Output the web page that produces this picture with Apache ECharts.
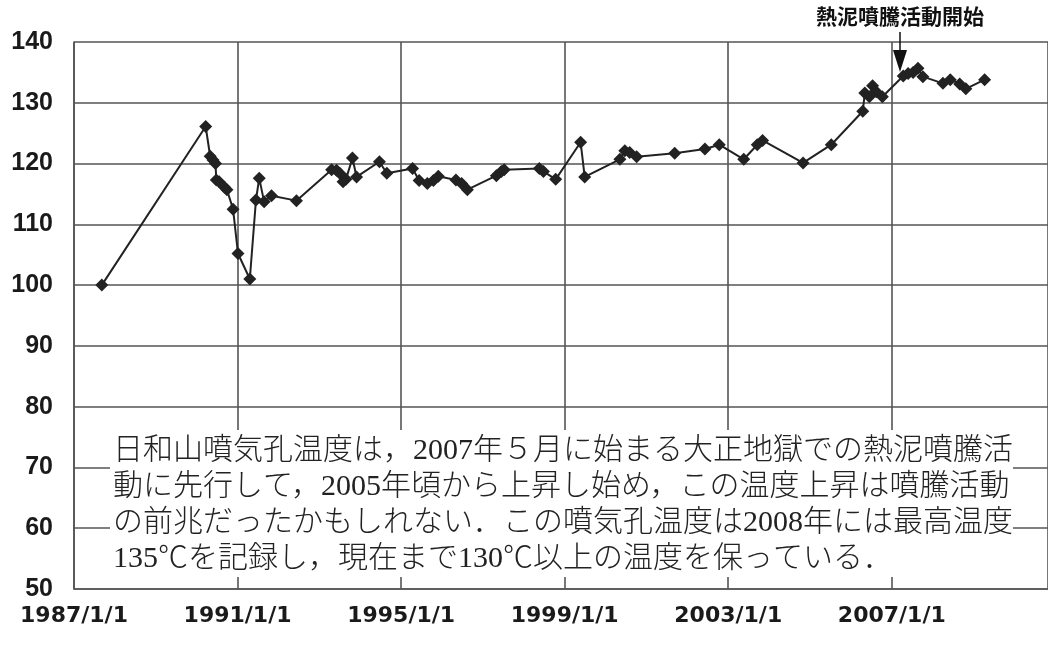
<!DOCTYPE html>
<html>
<head>
<meta charset="utf-8">
<style>
html, body { margin: 0; padding: 0; background: #fff; }
#chart { width: 1048px; height: 645px; }
</style>
<script src="https://cdn.jsdelivr.net/npm/echarts@6/dist/echarts.min.js"></script>
</head>
<body>
<div id="chart"></div>
<script>
// 日和山噴気孔温度 (年は小数で表す)
var years = [
  1987.68, 1990.22, 1990.33, 1990.40, 1990.46, 1990.48, 1990.55, 1990.68, 1990.74, 1990.89,
  1991.01, 1991.30, 1991.45, 1991.53, 1991.65, 1991.83, 1992.44, 1993.30, 1993.42, 1993.50,
  1993.58, 1993.65, 1993.81, 1993.91, 1994.47, 1994.65, 1995.28, 1995.44, 1995.64, 1995.79,
  1995.91, 1996.34, 1996.48, 1996.62, 1997.33, 1997.45, 1997.52, 1998.38, 1998.48, 1998.78,
  1999.39, 1999.49, 2000.35, 2000.47, 2000.59, 2000.76, 2001.69, 2002.43, 2002.78, 2003.38,
  2003.71, 2003.84, 2004.83, 2005.52, 2006.29, 2006.34, 2006.45, 2006.53, 2006.62, 2006.77,
  2007.28, 2007.40, 2007.52, 2007.64, 2007.76, 2008.25, 2008.43, 2008.66, 2008.81, 2009.27
];
var temps = [
  100.0, 126.1, 121.2, 120.6, 120.0, 117.3, 117.0, 116.1, 115.7, 112.5,
  105.2, 101.0, 114.0, 117.6, 113.7, 114.7, 113.9, 119.0, 118.9, 118.4,
  117.0, 117.4, 120.9, 117.8, 120.3, 118.4, 119.2, 117.2, 116.7, 117.2,
  117.9, 117.3, 116.7, 115.7, 118.0, 118.7, 119.0, 119.2, 118.7, 117.4,
  123.5, 117.8, 120.7, 122.1, 121.8, 121.1, 121.7, 122.4, 123.1, 120.7,
  123.1, 123.8, 120.1, 123.1, 128.6, 131.6, 131.0, 132.8, 131.8, 131.0,
  134.4, 134.8, 135.0, 135.7, 134.3, 133.2, 133.8, 133.1, 132.3, 133.8
];
var eventYear = 2007.2;
var eventLabel = '熱泥噴騰活動開始';
var noteLines = [
  '日和山噴気孔温度は，2007年５月に始まる大正地獄での熱泥噴騰活',
  '動に先行して，2005年頃から上昇し始め，この温度上昇は噴騰活動',
  'の前兆だったかもしれない．この噴気孔温度は2008年には最高温度',
  '135℃を記録し，現在まで130℃以上の温度を保っている．'
];

var points = years.map(function (y, i) { return [y, temps[i]]; });

var chart = echarts.init(document.getElementById('chart'));
var gridLine = { color: '#555', width: 1.6 };
var option = {
  animation: false,
  grid: { left: 74, top: 42, right: 0, bottom: 56 },
  xAxis: {
    type: 'value',
    min: 1987,
    max: 2010.82,
    interval: 4,
    axisLine: { show: true, lineStyle: gridLine },
    axisTick: { show: false },
    splitLine: { show: true, lineStyle: gridLine },
    axisLabel: {
      showMaxLabel: false,
      margin: 16,
      color: '#1a1a1a',
      fontFamily: 'DejaVu Sans',
      fontWeight: 'bold',
      fontSize: 22,
      formatter: function (v) { return Math.round(v) + '/1/1'; }
    }
  },
  yAxis: {
    type: 'value',
    min: 50,
    max: 140,
    interval: 10,
    axisLine: { show: true, lineStyle: gridLine },
    axisTick: { show: false },
    splitLine: { show: true, lineStyle: gridLine },
    axisLabel: {
      margin: 21,
      color: '#1a1a1a',
      fontFamily: 'Liberation Sans',
      fontWeight: 'bold',
      fontSize: 25
    }
  },
  series: [{
    type: 'line',
    data: points,
    symbol: 'diamond',
    symbolSize: 13,
    lineStyle: { color: '#222', width: 2 },
    itemStyle: { color: '#222' },
    z: 3
  }]
};
chart.setOption(option);

// 注記 (矢印と説明文)
var p = chart.convertToPixel({ gridIndex: 0 }, [eventYear, 140]);
var ax = Math.round(p[0]);
var graphics = [
  {
    type: 'text', x: ax, y: 16, z: 10,
    style: { text: eventLabel, textAlign: 'center', textVerticalAlign: 'middle',
             font: 'bold 21px "Noto Sans CJK JP"', fill: '#111' }
  },
  {
    type: 'line', z: 10,
    shape: { x1: ax, y1: 32, x2: ax, y2: 55 },
    style: { stroke: '#111', lineWidth: 1.5 }
  },
  {
    type: 'polygon', z: 10,
    shape: { points: [[ax - 7, 50], [ax + 7, 50], [ax, 72]] },
    style: { fill: '#111' }
  },
  {
    type: 'rect', z: 5,
    shape: { x: 110, y: 430, width: 903, height: 147 },
    style: { fill: '#fff' }
  }
];
noteLines.forEach(function (t, i) {
  graphics.push({
    type: 'text', x: 113, y: 451 + i * 36, z: 6,
    style: { text: t, textVerticalAlign: 'middle',
             font: '300 30px "Liberation Serif", "Noto Sans CJK JP"', fill: '#222' }
  });
});
chart.setOption({ graphic: graphics });
</script>
</body>
</html>
